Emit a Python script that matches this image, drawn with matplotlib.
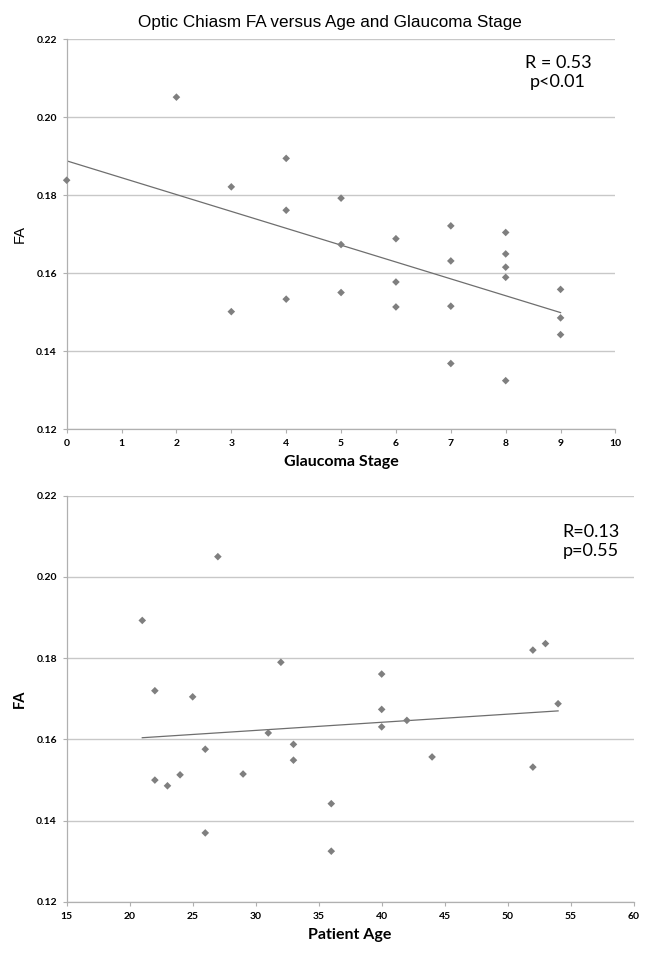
import numpy as np
import matplotlib
matplotlib.use("Agg")
import matplotlib.pyplot as plt

# Glaucoma stage vs FA
stage = [0, 2, 3, 3, 4, 4, 4, 5, 5, 5, 6, 6, 6, 7, 7, 7, 7, 8, 8, 8, 8, 8, 9, 9, 9]
fa_stage = [0.1838, 0.2051, 0.1821, 0.1501, 0.1894, 0.1761, 0.1533, 0.1792, 0.1673, 0.1550,
            0.1688, 0.1577, 0.1513, 0.1721, 0.1631, 0.1515, 0.1368, 0.1704, 0.1649, 0.1615,
            0.1589, 0.1324, 0.1558, 0.1485, 0.1442]

# Patient age vs FA
age = [21, 22, 22, 23, 24, 25, 26, 26, 27, 29, 31, 32, 33, 33, 36, 36, 40, 40, 40, 42, 44,
       52, 52, 53, 54]
fa_age = [0.1893, 0.1720, 0.1500, 0.1486, 0.1513, 0.1705, 0.1576, 0.1370, 0.2050, 0.1515,
          0.1616, 0.1790, 0.1588, 0.1549, 0.1442, 0.1325, 0.1761, 0.1674, 0.1631, 0.1647,
          0.1557, 0.1820, 0.1532, 0.1836, 0.1688]

yticks = [0.12, 0.14, 0.16, 0.18, 0.20, 0.22]

fig = plt.figure(figsize=(6.51, 9.57), dpi=100)
ax1 = fig.add_axes([0.1024, 0.5517, 0.843, 0.4075])
ax2 = fig.add_axes([0.1024, 0.0575, 0.871, 0.4245])

tick_font = dict(family="Lato", size=7.5, weight="bold")


def style_axis(ax, xlim, xticks):
    ax.set_xlim(*xlim)
    ax.set_ylim(0.12, 0.22)
    ax.set_xticks(xticks)
    ax.set_yticks(yticks)
    ax.set_yticklabels([f"{v:.2f}" for v in yticks], fontdict=tick_font)
    ax.set_xticklabels([str(v) for v in xticks], fontdict=tick_font)
    ax.grid(axis="y", color="#c8c8c8", linewidth=1.0)
    ax.set_axisbelow(True)
    for s in ["top", "right"]:
        ax.spines[s].set_visible(False)
    for s in ["left", "bottom"]:
        ax.spines[s].set_color("#b0b0b0")
        ax.spines[s].set_linewidth(0.9)
    ax.tick_params(axis="both", direction="out", length=3, color="#b0b0b0", pad=4)


def draw(ax, x, y):
    x = np.array(x, dtype=float)
    y = np.array(y, dtype=float)
    ax.scatter(x, y, marker="D", s=15, color="#7f7f7f", edgecolors="none", zorder=3,
               clip_on=False)
    k, b = np.polyfit(x, y, 1)
    xs = np.array([x.min(), x.max()])
    ax.plot(xs, k * xs + b, color="#6e6e6e", linewidth=0.9, zorder=2)


draw(ax1, stage, fa_stage)
style_axis(ax1, (0, 10), list(range(0, 11)))
ax1.set_xlabel("Glaucoma Stage", family="Lato", weight="bold", fontsize=11.5, labelpad=5)
ax1.set_ylabel("FA", family="Liberation Sans", fontsize=10.5, ha="center", va="center")
ax1.yaxis.set_label_coords(-0.085, 0.5)
ax1.text(0.895, 0.915, "R = 0.53\np<0.01", transform=ax1.transAxes, ha="center", va="center",
         family="Lato", fontsize=13, linespacing=1.25)
fig.text(0.507, 0.976, "Optic Chiasm FA versus Age and Glaucoma Stage", ha="center",
         va="center", family="Liberation Sans", fontsize=12.3)

draw(ax2, age, fa_age)
style_axis(ax2, (15, 60), list(range(15, 61, 5)))
ax2.set_xlabel("Patient Age", family="Lato", weight="bold", fontsize=11.5, labelpad=5)
ax2.set_ylabel("FA", family="Lato", weight="bold", fontsize=10.5, ha="center", va="center")
ax2.yaxis.set_label_coords(-0.082, 0.5)
ax2.text(0.924, 0.888, "R=0.13\np=0.55", transform=ax2.transAxes, ha="center", va="center",
         family="Lato", fontsize=13, linespacing=1.25)

fig.savefig("out.png", dpi=100)
